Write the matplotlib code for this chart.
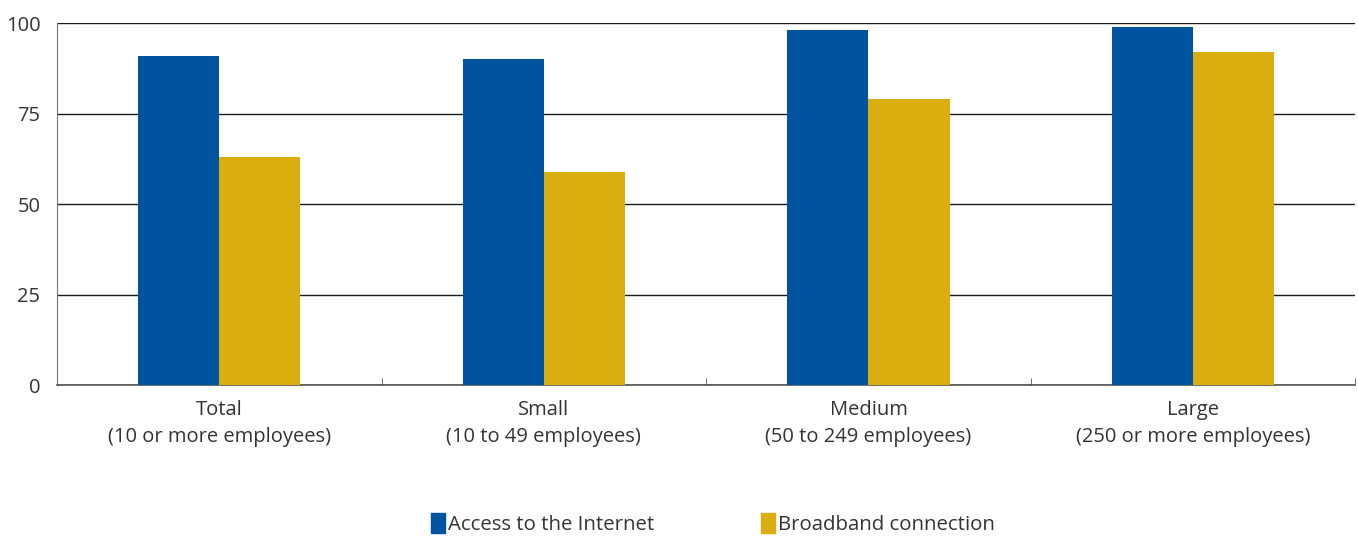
import numpy as np
import matplotlib.pyplot as plt
from matplotlib.patches import Patch

categories = ['Total\n(10 or more employees)', 'Small\n(10 to 49 employees)',
              'Medium\n(50 to 249 employees)', 'Large\n(250 or more employees)']
internet = [91, 90, 98, 99]
broadband = [63, 59, 79, 92]
series_names = ['Access to the Internet', 'Broadband connection']

blue = '#00539f'
gold = '#d9ae0e'
text_col = '#333333'

plt.rcParams['font.family'] = ['Open Sans', 'DejaVu Sans']

fig = plt.figure(figsize=(13.58, 5.40), dpi=100)
ax = fig.add_axes([0.042, 0.287, 0.956, 0.670])

x = np.arange(len(categories))
w = 0.25
ax.bar(x - w / 2, internet, w, color=blue, zorder=3)
ax.bar(x + w / 2, broadband, w, color=gold, zorder=3)

ax.set_xlim(-0.5, 3.5)
ax.set_ylim(0, 100)
ax.set_yticks([0, 25, 50, 75, 100])
ax.yaxis.grid(True, color='#1a1a1a', linewidth=1.0, zorder=0)

ax.set_xticks(x)
ax.set_xticklabels(categories, fontsize=14.5, color=text_col, linespacing=1.45)
ax.set_xticks(np.arange(-0.5, 4, 1), minor=True)
ax.tick_params(axis='x', which='major', length=0, pad=11)
ax.tick_params(axis='x', which='minor', direction='in', length=5, color='#555555')
ax.tick_params(axis='y', length=0, pad=12, labelsize=14.5, labelcolor=text_col)

for s in ['top', 'right']:
    ax.spines[s].set_visible(False)
ax.spines['left'].set_color('#777777')
ax.spines['bottom'].set_color('#444444')
ax.spines['bottom'].set_linewidth(1.1)

handles = [Patch(color=blue), Patch(color=gold)]
fig.legend(handles, series_names, loc='lower center', bbox_to_anchor=(0.525, -0.025),
           ncol=2, frameon=False, fontsize=14.7, handlelength=0.7, handleheight=1.1,
           handletextpad=0.15, columnspacing=5.2, labelcolor=text_col)

fig.savefig('out.png', dpi=100)
